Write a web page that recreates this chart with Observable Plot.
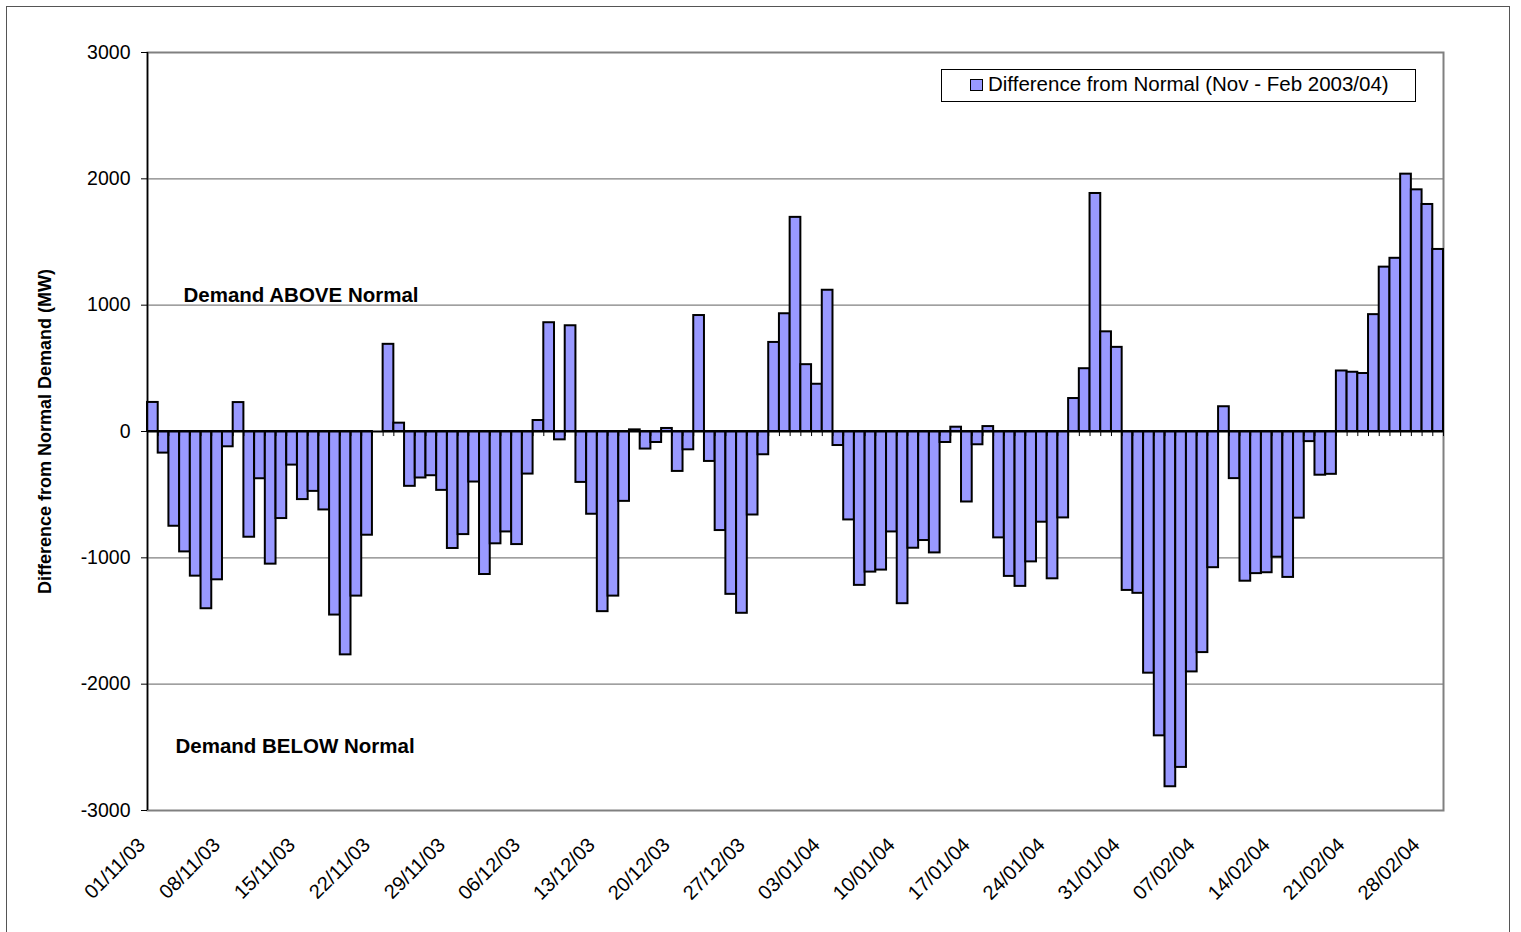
<!DOCTYPE html>
<html>
<head>
<meta charset="utf-8">
<script src="https://cdn.jsdelivr.net/npm/d3@7"></script>
<script src="https://cdn.jsdelivr.net/npm/@observablehq/plot@0.6"></script>
<style>
  html, body { margin: 0; padding: 0; background: #fff; overflow: hidden; }
  #wrap { position: relative; width: 1521px; height: 932px; font-family: "Liberation Sans", Arial, sans-serif; }
  #frame { position: absolute; left: 6px; top: 6px; width: 1504px; height: 1000px; border: 1.5px solid #555; box-sizing: border-box; pointer-events: none; }
  #legend { position: absolute; left: 941px; top: 69px; width: 475px; height: 33px; border: 1.5px solid #000; box-sizing: border-box; background: #fff; font-size: 20.5px; color: #000; }
  #legend .sw { position: absolute; left: 28px; top: 8.5px; width: 13px; height: 12px; background: #9999FF; border: 1.5px solid #000; box-sizing: border-box; }
  #legend .lb { position: absolute; left: 46px; top: 2px; line-height: 24px; white-space: nowrap; }
  svg { display: block; }
</style>
</head>
<body>
<div id="wrap">
  <div id="chart"></div>
  <div id="frame"></div>
  <div id="legend"><span class="sw"></span><span class="lb" id="legendText"></span></div>
</div>
<script>
// Daily dates (categories), 01/11/03 – 29/02/04
const datesNov = ["01/11/03","02/11/03","03/11/03","04/11/03","05/11/03","06/11/03","07/11/03","08/11/03","09/11/03","10/11/03",
  "11/11/03","12/11/03","13/11/03","14/11/03","15/11/03","16/11/03","17/11/03","18/11/03","19/11/03","20/11/03",
  "21/11/03","22/11/03","23/11/03","24/11/03","25/11/03","26/11/03","27/11/03","28/11/03","29/11/03","30/11/03"];
const datesDec = ["01/12/03","02/12/03","03/12/03","04/12/03","05/12/03","06/12/03","07/12/03","08/12/03","09/12/03","10/12/03",
  "11/12/03","12/12/03","13/12/03","14/12/03","15/12/03","16/12/03","17/12/03","18/12/03","19/12/03","20/12/03",
  "21/12/03","22/12/03","23/12/03","24/12/03","25/12/03","26/12/03","27/12/03","28/12/03","29/12/03","30/12/03","31/12/03"];
const datesJan = ["01/01/04","02/01/04","03/01/04","04/01/04","05/01/04","06/01/04","07/01/04","08/01/04","09/01/04","10/01/04",
  "11/01/04","12/01/04","13/01/04","14/01/04","15/01/04","16/01/04","17/01/04","18/01/04","19/01/04","20/01/04",
  "21/01/04","22/01/04","23/01/04","24/01/04","25/01/04","26/01/04","27/01/04","28/01/04","29/01/04","30/01/04","31/01/04"];
const datesFeb = ["01/02/04","02/02/04","03/02/04","04/02/04","05/02/04","06/02/04","07/02/04","08/02/04","09/02/04","10/02/04",
  "11/02/04","12/02/04","13/02/04","14/02/04","15/02/04","16/02/04","17/02/04","18/02/04","19/02/04","20/02/04",
  "21/02/04","22/02/04","23/02/04","24/02/04","25/02/04","26/02/04","27/02/04","28/02/04","29/02/04"];

// Difference from normal demand (MW), one value per day
const valuesNov = [230,-171,-750,-953,-1145,-1403,-1174,-121,229,-837,
  -374,-1050,-689,-266,-539,-474,-621,-1453,-1768,-1303,
  -821,null,690,66,-434,-368,-350,-466,-926,-816];
const valuesDec = [-400,-1132,-889,-795,-895,-337,87,861,-66,837,
  -403,-655,-1426,-1303,-553,13,-139,-87,24,-316,
  -145,918,-237,-784,-1289,-1439,-661,-184,705,932,1695];
const valuesJan = [529,374,1118,-111,-700,-1218,-1113,-1097,-795,-1363,
  -924,-863,-961,-87,34,-558,-105,39,-842,-1147,
  -1226,-1032,-718,-1166,-684,261,497,1884,789,666,-1258];
const valuesFeb = [-1281,-1913,-2409,-2812,-2659,-1903,-1750,-1078,196,-373,
  -1185,-1125,-1118,-995,-1155,-686,-80,-346,-339,479,
  469,459,925,1301,1371,2037,1913,1797,1441];

const tickLabels = ["01/11/03","08/11/03","15/11/03","22/11/03","29/11/03","06/12/03","13/12/03","20/12/03","27/12/03",
  "03/01/04","10/01/04","17/01/04","24/01/04","31/01/04","07/02/04","14/02/04","21/02/04","28/02/04"];
const yTicks = [-3000,-2000,-1000,0,1000,2000,3000];
const gridValues = [-2000,-1000,1000,2000];
const seriesName = "Difference from Normal (Nov - Feb 2003/04)";
const yTitle = "Difference from Normal Demand (MW)";
const noteAbove = "Demand ABOVE Normal";
const noteBelow = "Demand BELOW Normal";

const dates = [...datesNov, ...datesDec, ...datesJan, ...datesFeb];
const values = [...valuesNov, ...valuesDec, ...valuesJan, ...valuesFeb];
const data = dates.map((d, i) => ({date: d, i, value: values[i]}));
const bars = data.filter(d => d.value != null);
const boundaries = d3.range(dates.length + 1);
const tickPos = tickLabels.map(l => dates.indexOf(l) + 0.5);

const FONT = '"Liberation Sans", Arial, sans-serif';

const chart = Plot.plot({
  width: 1521,
  height: 932,
  marginLeft: 147,
  marginRight: 78,
  marginTop: 52,
  marginBottom: 122,
  style: {fontFamily: FONT, fontSize: "19.5px", background: "transparent", color: "#000"},
  x: {domain: [0, dates.length], axis: null},
  y: {domain: [-3000, 3000], axis: null},
  marks: [
    Plot.ruleY(gridValues, {stroke: "#808080", strokeWidth: 1.2}),
    Plot.frame({stroke: "#808080", strokeWidth: 2}),
    Plot.rectY(bars, {x1: "i", x2: d => d.i + 1, y: "value", fill: "#9999FF", stroke: "#000", strokeWidth: 2}),
    Plot.ruleY([0], {stroke: "#000", strokeWidth: 2}),
    Plot.ruleX(boundaries, {x: d => d, y1: 0, y2: -40, stroke: "#000", strokeWidth: 1}),
    Plot.ruleX([0], {stroke: "#000", strokeWidth: 1.5}),
    Plot.axisY({ticks: yTicks, tickSize: 6, tickPadding: 11, tickFormat: d => String(d), label: null, fontSize: 19.5}),
    Plot.axisX({ticks: tickPos, tickFormat: d => dates[Math.floor(d)], tickRotate: -45, tickSize: 0, tickPadding: 31, dx: -11, label: null, fontSize: 20}),
    Plot.text([yTitle], {frameAnchor: "left", dx: -102, rotate: -90, textAnchor: "middle", lineAnchor: "middle", fontWeight: "bold", fontSize: 18, fill: "#000"}),
    Plot.text([noteAbove], {x: 3.36, y: 1026, textAnchor: "start", lineAnchor: "bottom", fontWeight: "bold", fontSize: 20.5, fill: "#000"}),
    Plot.text([noteBelow], {x: 2.61, y: -2548, textAnchor: "start", lineAnchor: "bottom", fontWeight: "bold", fontSize: 20.5, fill: "#000"})
  ]
});
document.getElementById("chart").appendChild(chart);
document.getElementById("legendText").textContent = seriesName;
</script>
</body>
</html>
